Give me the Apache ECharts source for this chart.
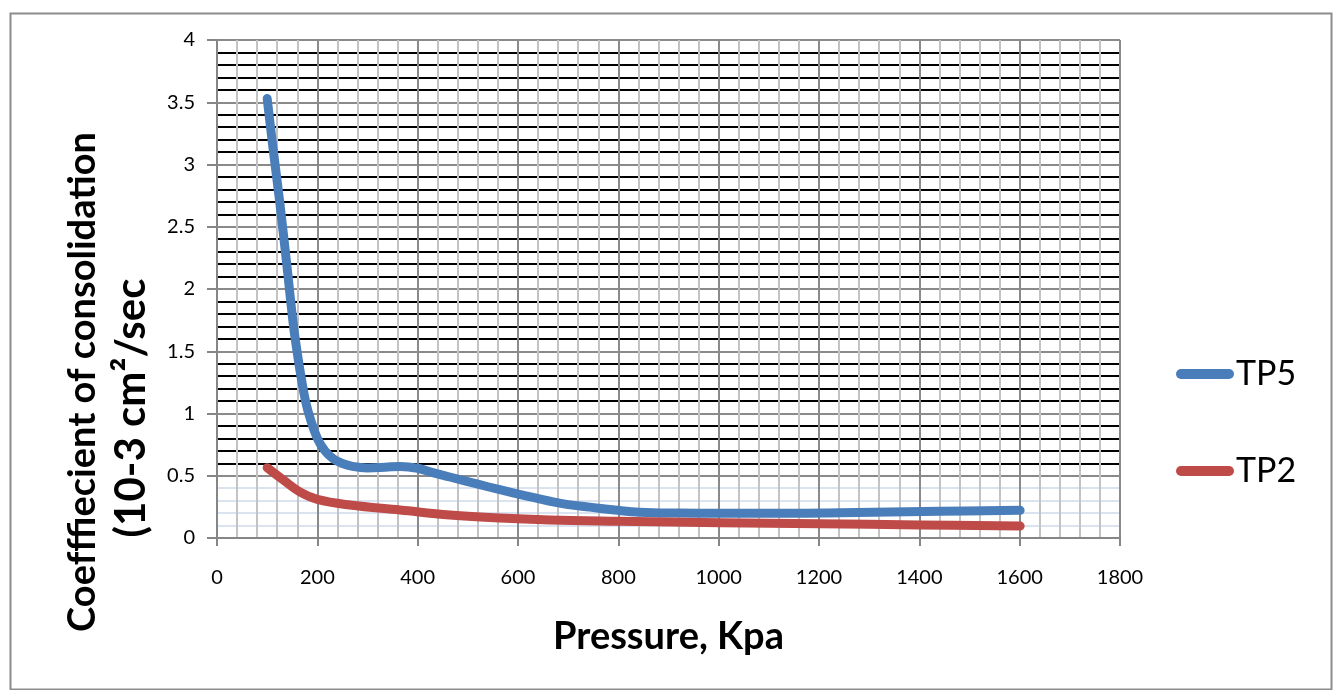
<!DOCTYPE html>
<html>
<head>
<meta charset="utf-8">
<script src="https://cdn.jsdelivr.net/npm/echarts@6/dist/echarts.min.js"></script>
<style>
html,body{margin:0;padding:0;background:#fff;}
#chart{width:1333px;height:690px;}
</style>
</head>
<body>
<div id="chart"></div>
<script>
// ---- data ----
const seriesNames = ['TP5', 'TP2'];
const tp5 = [
  [100, 3.53], [112, 3.12], [125, 2.70], [139, 2.20], [152, 1.72], [161, 1.46],
  [169, 1.26], [177, 1.09], [185, 0.97], [200, 0.80], [215, 0.70], [232, 0.635],
  [250, 0.598], [270, 0.575], [300, 0.563], [335, 0.568], [365, 0.575], [400, 0.56],
  [430, 0.525], [464, 0.49], [520, 0.432], [564, 0.388], [620, 0.335], [664, 0.295],
  [700, 0.268], [743, 0.248], [793, 0.225], [843, 0.207], [920, 0.200], [1003, 0.198],
  [1100, 0.198], [1242, 0.203], [1441, 0.214], [1601, 0.222]
];
const tp2 = [
  [100, 0.565], [132, 0.466], [165, 0.37], [200, 0.31], [265, 0.265], [365, 0.225],
  [464, 0.185], [564, 0.16], [664, 0.145], [800, 0.135], [1003, 0.123],
  [1200, 0.115], [1400, 0.105], [1601, 0.096]
];
const xTitle = 'Pressure, Kpa';
const yTitleLines = ['Coefffiecient of consolidation', '(10-3 cm\u00B2/sec'];

// ---- styling ----
const FONT = 'Lato';
const minorColors = [];
for (let i = 0; i <= 40; i++) {
  if (i % 5 === 0) minorColors.push('rgba(0,0,0,0)');
  else if (i < 5) minorColors.push('#dbe3f1');
  else minorColors.push('#000000');
}

const chart = echarts.init(document.getElementById('chart'));
chart.setOption({
  animation: false,
  backgroundColor: '#ffffff',
  color: ['#4a7ebb', '#be4b48'],
  grid: { left: 217, right: 213, top: 40, bottom: 152, containLabel: false },
  xAxis: {
    type: 'value', min: 0, max: 1800, interval: 200,
    name: xTitle, nameLocation: 'middle', nameGap: 80,
    nameTextStyle: { fontFamily: FONT, fontWeight: 'bold', fontSize: 38, color: '#000' },
    axisLine: { show: true, lineStyle: { color: '#868686', width: 2 } },
    axisTick: { show: true, length: 8, lineStyle: { color: '#868686', width: 2 } },
    axisLabel: { fontFamily: FONT, fontSize: 20, color: '#000', margin: 30,
      formatter: function (v) { return String(v); } },
    splitLine: { show: true, lineStyle: { color: '#8a8a8a', width: 2 } },
    minorTick: { show: false, splitNumber: 5 },
    minorSplitLine: { show: true, lineStyle: { color: '#c3c3c3', width: 2 } }
  },
  yAxis: [
    {
      type: 'value', min: 0, max: 4, interval: 0.5,
      axisLine: { show: true, lineStyle: { color: '#868686', width: 2 } },
      axisTick: { show: true, length: 10, lineStyle: { color: '#868686', width: 2 } },
      axisLabel: { fontFamily: FONT, fontSize: 20, color: '#000', margin: 22 },
      splitLine: { show: true, lineStyle: { color: '#8a8a8a', width: 2 } }
    },
    {
      type: 'value', min: 0, max: 4, interval: 0.1, position: 'left',
      axisLine: { show: false }, axisTick: { show: false }, axisLabel: { show: false },
      splitLine: { show: true, lineStyle: { color: minorColors, width: 2 } }
    }
  ],
  legend: {
    orient: 'vertical', left: 1171, top: 347,
    itemWidth: 58, itemHeight: 10, itemGap: 53,
    icon: 'path://M5,0 L53,0 A5,5 0 0 1 53,10 L5,10 A5,5 0 0 1 5,0 Z',
    textStyle: { fontFamily: FONT, fontSize: 34, color: '#000', lineHeight: 44, padding: [0, 0, 0, -3] },
    data: seriesNames
  },
  series: [
    {
      name: seriesNames[0], type: 'line', data: tp5, smooth: 0.4, showSymbol: false, symbol: 'none',
      lineStyle: { width: 9, cap: 'round', join: 'round' }, z: 3
    },
    {
      name: seriesNames[1], type: 'line', data: tp2, smooth: 0.4, showSymbol: false, symbol: 'none',
      lineStyle: { width: 9, cap: 'round', join: 'round' }, z: 3
    }
  ],
  graphic: [
    { type: 'rect', left: 8, top: 11, shape: { width: 1321, height: 676 },
      style: { fill: 'none', stroke: '#8c8c8c', lineWidth: 2 }, silent: true },
    { type: 'text', x: 83, y: 382, rotation: Math.PI / 2,
      style: { text: yTitleLines[0], font: 'bold 38px ' + FONT, fill: '#000', align: 'center', verticalAlign: 'middle' } },
    { type: 'text', x: 131, y: 408, rotation: Math.PI / 2,
      style: { text: yTitleLines[1], font: 'bold 42px ' + FONT, fill: '#000', align: 'center', verticalAlign: 'middle' } }
  ]
});
</script>
</body>
</html>
